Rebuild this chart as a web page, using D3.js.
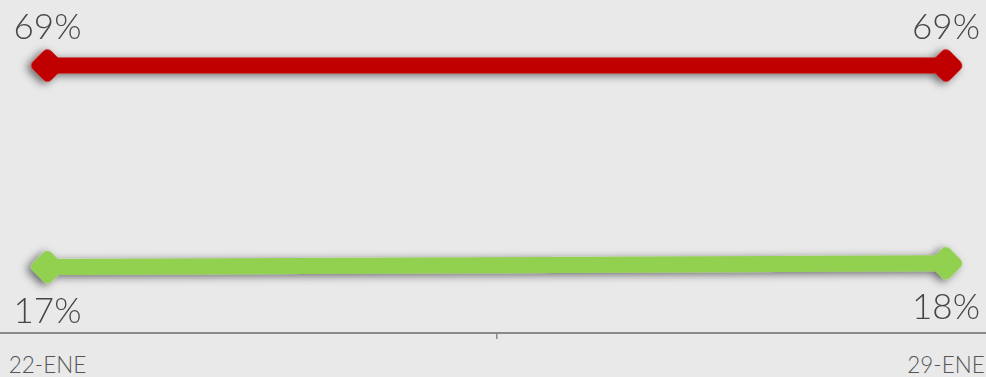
<!DOCTYPE html>
<html>
<head>
<meta charset="utf-8">
<script src="https://cdn.jsdelivr.net/npm/d3@7"></script>
<style>
  html, body { margin: 0; padding: 0; background: #e9e9e9; }
  svg { display: block; }
  text { font-family: Lato, "Open Sans", sans-serif; font-weight: 300; fill: #464646; }
</style>
</head>
<body>
<div id="chart"></div>
<script>
// Weekly values (percent)
const categories = ["22-ENE", "29-ENE"];
const redValues = [69, 69];
const greenValues = [17, 18];

const width = 986, height = 377;

const svg = d3.select("#chart").append("svg")
  .attr("width", width)
  .attr("height", height);

svg.append("rect").attr("width", width).attr("height", height).attr("fill", "#e9e9e9");

// soft drop shadow under the lines
const defs = svg.append("defs");
defs.append("filter")
  .attr("id", "shadow")
  .attr("x", "-20%").attr("y", "-100%")
  .attr("width", "140%").attr("height", "300%")
  .append("feDropShadow")
  .attr("dx", -4).attr("dy", 2)
  .attr("stdDeviation", 4)
  .attr("flood-color", "#000")
  .attr("flood-opacity", 0.55);

const x = d3.scalePoint().domain(categories).range([47.5, 946]);
const y = d3.scaleLinear().domain([0, 69]).range([333, 65.5]);

// category axis: baseline across the full width, one tick between categories
const axisY = y(0);
svg.append("line")
  .attr("x1", 0).attr("x2", width)
  .attr("y1", axisY).attr("y2", axisY)
  .attr("stroke", "#8a8a8a").attr("stroke-width", 2);

const mid = (x(categories[0]) + x(categories[1])) / 2;
svg.append("line")
  .attr("x1", mid).attr("x2", mid)
  .attr("y1", axisY).attr("y2", axisY + 6)
  .attr("stroke", "#8a8a8a").attr("stroke-width", 1.5);

svg.selectAll("text.cat")
  .data(categories)
  .join("text")
  .attr("class", "cat")
  .attr("x", d => x(d))
  .attr("y", 373)
  .attr("text-anchor", "middle")
  .attr("font-size", 22.5)
  .style("fill", "#555")
  .text(d => d);

const series = [
  { values: redValues, color: "#c00000", labelDy: -26.5 },
  { values: greenValues, color: "#92d050", labelDy: 56 }
];

const line = d3.line()
  .x((d, i) => x(categories[i]))
  .y(d => y(d));

const diamond = d3.symbol().type(d3.symbolSquare).size(230);

series.forEach(s => {
  const g = svg.append("g").attr("filter", "url(#shadow)");
  g.append("path")
    .datum(s.values)
    .attr("d", line)
    .attr("fill", "none")
    .attr("stroke", s.color)
    .attr("stroke-width", 16);
  g.selectAll("path.marker")
    .data(s.values)
    .join("path")
    .attr("class", "marker")
    .attr("d", diamond)
    .attr("transform", (d, i) => `translate(${x(categories[i])},${y(d)}) rotate(45)`)
    .attr("fill", s.color)
    .attr("stroke", s.color)
    .attr("stroke-width", 11)
    .attr("stroke-linejoin", "round");
});

series.forEach(s => {
  svg.selectAll(null)
    .data(s.values)
    .join("text")
    .attr("x", (d, i) => x(categories[i]))
    .attr("y", d => y(d) + s.labelDy)
    .attr("text-anchor", "middle")
    .attr("font-size", 35)
    .text(d => d + "%");
});
</script>
</body>
</html>
